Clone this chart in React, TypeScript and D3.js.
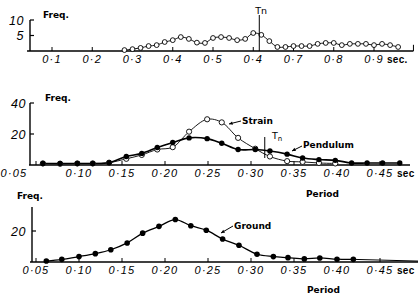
import React from 'react';
import * as d3 from 'd3';

const W = 418;
const H = 294;

// top panel: frequency of periods, open circles
const topPeriods = [0.28, 0.30, 0.32, 0.34, 0.36, 0.38, 0.40, 0.42, 0.44, 0.46, 0.48, 0.50, 0.52, 0.54, 0.56, 0.58, 0.60, 0.62, 0.64, 0.66, 0.68, 0.70, 0.72, 0.74, 0.76, 0.78, 0.80, 0.82, 0.84, 0.86, 0.88, 0.90, 0.92, 0.94, 0.96];
const topFreq = [0.3, 0.6, 1.0, 1.6, 1.9, 2.9, 3.5, 4.5, 3.9, 2.7, 2.6, 4.2, 4.5, 4.2, 3.5, 3.9, 5.8, 5.2, 3.2, 1.3, 1.3, 1.6, 1.6, 1.6, 2.3, 2.6, 2.6, 1.9, 2.3, 2.3, 2.3, 1.9, 2.3, 1.9, 1.3];
const topTicks = [0.1, 0.2, 0.3, 0.4, 0.5, 0.6, 0.7, 0.8, 0.9];
const topTickLabels = ['0·1', '0·2', '0·3', '0·4', '0·5', '0·4', '0·7', '0·8', '0·9'];
const topYTicks = [5, 10];
const topTn = 0.615;

// middle panel: strain (open) and pendulum (filled)
const midPeriods = [0.058, 0.078, 0.098, 0.116, 0.135, 0.155, 0.173, 0.191, 0.209, 0.228, 0.249, 0.266, 0.285, 0.305, 0.322, 0.342, 0.360, 0.379, 0.398, 0.417, 0.435, 0.453, 0.473];
const strainFreq = [1, 0.8, 1, 1, 1.5, 4, 6.5, 10, 11.5, 21.5, 29.5, 27.5, 17.5, 10.5, 5.5, 2.5, 2, 1.3, 1];
const pendulumFreq = [1, 1, 1, 1, 1.5, 5.5, 7.5, 11.3, 14.5, 17.5, 17, 14, 10, 10, 9, 7, 4.5, 3.5, 3, 1.3, 1.3, 1.3, 1.3];
const midYTicks = [20, 40];
const midTn = 0.316;

// bottom panel: ground
const groundPeriods = [0.062, 0.080, 0.100, 0.119, 0.137, 0.156, 0.174, 0.193, 0.212, 0.230, 0.248, 0.267, 0.286, 0.307, 0.326, 0.343, 0.362, 0.380, 0.400, 0.419];
const groundFreq = [0.6, 1.7, 3.5, 5.4, 7.9, 12.3, 18.6, 23, 27.4, 23.4, 20.5, 14.8, 10.8, 5, 3.5, 2.8, 2, 2.6, 1.8, 1.7];
const bottomYTicks = [20];

const periodTicks = [0.05, 0.10, 0.15, 0.20, 0.25, 0.30, 0.35, 0.40, 0.45];
const periodTickLabels = ['0·05', '0·10', '0·15', '0·20', '0·25', '0·30', '0·35', '0·40', '0·45'];

const tickFont = { fontFamily: 'Liberation Sans, Arial, sans-serif', fontStyle: 'italic', fontSize: 11, letterSpacing: 1.2, fill: '#000' } as const;
const yTickFont = { ...tickFont, fontSize: 12.5, letterSpacing: 0.5 } as const;
const labelFont = { fontFamily: 'DejaVu Sans, sans-serif', fontWeight: 'bold', fontSize: 9, fill: '#000' } as const;
const secFont = { ...tickFont, fontStyle: 'normal', fontWeight: 'bold', fontSize: 10, letterSpacing: 0.3 } as const;

const xTop = d3.scaleLinear().domain([0.1, 0.9]).range([52, 374]);
const yTop = d3.scaleLinear().domain([0, 10]).range([51, 20]);
const xP = d3.scaleLinear().domain([0.1, 0.45]).range([79, 380]);
const yMid = d3.scaleLinear().domain([0, 40]).range([165, 103]);
const yBot = d3.scaleLinear().domain([0, 20]).range([262, 231]);

const Arrow = ({ x1, y1, x2, y2 }: { x1: number; y1: number; x2: number; y2: number }) => {
  const a = Math.atan2(y2 - y1, x2 - x1);
  const l = 4;
  const p1 = [x2 - l * Math.cos(a - 0.45), y2 - l * Math.sin(a - 0.45)];
  const p2 = [x2 - l * Math.cos(a + 0.45), y2 - l * Math.sin(a + 0.45)];
  return (
    <g>
      <line x1={x1} y1={y1} x2={x2} y2={y2} stroke="#000" strokeWidth={1} />
      <path d={`M${x2},${y2}L${p1[0]},${p1[1]}L${p2[0]},${p2[1]}Z`} fill="#000" />
    </g>
  );
};

export default function App() {
  const topLine = d3.line<number>()
    .x((_, i) => xTop(topPeriods[i]))
    .y(d => yTop(d))
    .curve(d3.curveCatmullRom);
  const strainLine = d3.line<number>()
    .x((_, i) => xP(midPeriods[i]))
    .y(d => yMid(d))
    .curve(d3.curveCatmullRom);
  const pendLine = d3.line<number>()
    .x((_, i) => xP(midPeriods[i]))
    .y(d => yMid(d))
    .curve(d3.curveCatmullRom);
  const groundLine = d3.line<number>()
    .x((_, i) => xP(groundPeriods[i]))
    .y(d => yBot(d))
    .curve(d3.curveCatmullRom);

  return (
    <svg width={W} height={H} style={{ position: 'absolute', left: 0, top: 0, background: '#fff' }}>
      {/* ---------- top panel ---------- */}
      <g>
        <line x1={xTop(0.038)} x2={xTop(0.998)} y1={yTop(0)} y2={yTop(0)} stroke="#000" strokeWidth={1.5} />
        <line x1={xTop(0.998)} x2={xTop(0.998)} y1={yTop(0)} y2={yTop(2)} stroke="#000" strokeWidth={1} />
        <line x1={30} x2={30} y1={yTop(0)} y2={yTop(10)} stroke="#000" strokeWidth={1.4} />
        {topYTicks.map(t => (
          <g key={t}>
            <line x1={30} x2={34} y1={yTop(t)} y2={yTop(t)} stroke="#000" strokeWidth={1.2} />
            <text x={24} y={yTop(t) + 4.5} textAnchor="end" {...yTickFont}>{t}</text>
          </g>
        ))}
        {topTicks.map((t, i) => (
          <g key={t}>
            <line x1={xTop(t)} x2={xTop(t)} y1={yTop(0)} y2={yTop(0) - 4} stroke="#000" strokeWidth={1} />
            <text x={xTop(t)} y={63} textAnchor="middle" {...tickFont}>{topTickLabels[i]}</text>
          </g>
        ))}
        <text x={xTop(0.9) + 13} y={63} {...secFont}>sec.</text>
        <text x={43} y={18} {...labelFont}>Freq.</text>
        <path d={topLine(topFreq) || ''} fill="none" stroke="#000" strokeWidth={0.9} />
        {topFreq.map((d, i) => (
          <circle key={i} cx={xTop(topPeriods[i])} cy={yTop(d)} r={2.4} fill="#fff" stroke="#000" strokeWidth={0.9} />
        ))}
        <line x1={xTop(topTn)} x2={xTop(topTn)} y1={15} y2={yTop(0)} stroke="#000" strokeWidth={1} />
        <text x={xTop(topTn) - 4} y={14} fontFamily="DejaVu Sans, sans-serif" fontSize={9.5} fill="#000">Tn</text>
      </g>

      {/* ---------- middle panel ---------- */}
      <g>
        <line x1={29} x2={410} y1={yMid(0)} y2={yMid(0)} stroke="#000" strokeWidth={1.5} />
        <line x1={30} x2={30} y1={yMid(0)} y2={yMid(40)} stroke="#000" strokeWidth={1.4} />
        {midYTicks.map(t => (
          <g key={t}>
            <line x1={30} x2={34} y1={yMid(t)} y2={yMid(t)} stroke="#000" strokeWidth={1.2} />
            <text x={26} y={yMid(t) + 4.5} textAnchor="end" {...yTickFont}>{t}</text>
          </g>
        ))}
        {periodTicks.map((t, i) => (
          <g key={t}>
            <line x1={xP(t)} x2={xP(t)} y1={yMid(0)} y2={yMid(0) - 4} stroke="#000" strokeWidth={1} />
            <text x={xP(t)} dx={i === 0 ? -22 : 0} y={177} textAnchor="middle" {...tickFont}>{periodTickLabels[i]}</text>
          </g>
        ))}
        <text x={xP(0.45) + 17} y={177} {...secFont}>sec</text>
        <text x={45} y={101} {...labelFont}>Freq.</text>
        <text x={306} y={197} {...labelFont}>Period</text>
        <path d={strainLine(strainFreq) || ''} fill="none" stroke="#000" strokeWidth={0.9} />
        <path d={pendLine(pendulumFreq) || ''} fill="none" stroke="#000" strokeWidth={1.6} />
        {strainFreq.map((d, i) => (
          <circle key={'s' + i} cx={xP(midPeriods[i])} cy={yMid(d)} r={2.6} fill="#fff" stroke="#000" strokeWidth={0.9} />
        ))}
        {pendulumFreq.map((d, i) => (
          <circle key={'p' + i} cx={xP(midPeriods[i])} cy={yMid(d)} r={2.7} fill="#000" />
        ))}
        <line x1={xP(midTn)} x2={xP(midTn)} y1={137} y2={158} stroke="#000" strokeWidth={1} />
        <text x={272} y={139} fontFamily="DejaVu Sans, sans-serif" fontSize={9.5} fill="#000">T<tspan fontSize={7} dy={2}>n</tspan></text>
        <text x={242} y={124} {...labelFont}>Strain</text>
        <Arrow x1={241} y1={121} x2={229} y2={124} />
        <text x={303} y={148} {...labelFont}>Pendulum</text>
        <Arrow x1={302} y1={146} x2={292} y2={151} />
      </g>

      {/* ---------- bottom panel ---------- */}
      <g>
        <line x1={30} x2={418} y1={yBot(0)} y2={yBot(0)} stroke="#000" strokeWidth={1.5} />
        <line x1={32} x2={32} y1={yBot(0)} y2={207} stroke="#000" strokeWidth={1.4} />
        {bottomYTicks.map(t => (
          <g key={t}>
            <line x1={32} x2={36} y1={yBot(t)} y2={yBot(t)} stroke="#000" strokeWidth={1.2} />
            <text x={26} y={yBot(t) + 4.5} textAnchor="end" {...yTickFont}>{t}</text>
          </g>
        ))}
        {periodTicks.map((t, i) => (
          <g key={t}>
            <line x1={xP(t)} x2={xP(t)} y1={yBot(0)} y2={yBot(0) - 4} stroke="#000" strokeWidth={1} />
            <text x={xP(t)} y={274} textAnchor="middle" {...tickFont}>{periodTickLabels[i]}</text>
          </g>
        ))}
        <text x={xP(0.45) + 17} y={274} {...secFont}>sec</text>
        <text x={17} y={199} {...labelFont}>Freq.</text>
        <text x={307} y={293} {...labelFont}>Period</text>
        <path d={groundLine(groundFreq) || ''} fill="none" stroke="#000" strokeWidth={1.3} />
        <line x1={xP(groundPeriods[groundPeriods.length - 1])} x2={418} y1={yBot(groundFreq[groundFreq.length - 1])} y2={yBot(0.6)} stroke="#000" strokeWidth={1} />
        {groundFreq.map((d, i) => (
          <circle key={i} cx={xP(groundPeriods[i])} cy={yBot(d)} r={2.8} fill="#000" />
        ))}
        <text x={234} y={229} {...labelFont}>Ground</text>
        <Arrow x1={233} y1={226} x2={221} y2={233} />
      </g>
    </svg>
  );
}
